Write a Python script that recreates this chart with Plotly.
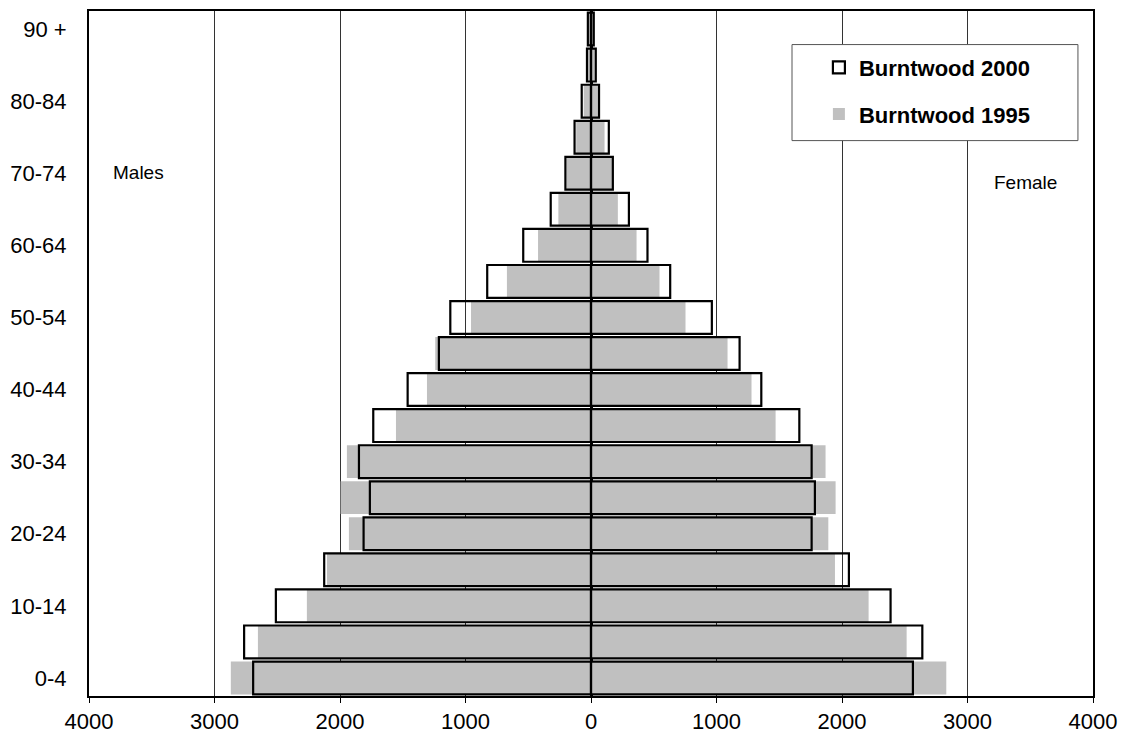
import plotly.graph_objects as go

ages = ["0-4", "5-9", "10-14", "15-19", "20-24", "25-29", "30-34", "35-39", "40-44",
        "45-49", "50-54", "55-59", "60-64", "65-69", "70-74", "75-79", "80-84", "85-89", "90 +"]

male_2000 = [2692, 2764, 2511, 2126, 1812, 1762, 1849, 1735, 1461, 1212, 1121, 827, 540, 321, 204, 131, 74, 32, 25]
male_1995 = [2870, 2654, 2264, 2104, 1929, 1995, 1945, 1554, 1307, 1241, 956, 670, 422, 260, 195, 118, 58, 25, 20]
female_2000 = [2565, 2640, 2387, 2055, 1758, 1784, 1758, 1660, 1357, 1184, 963, 631, 450, 302, 174, 142, 64, 38, 22]
female_1995 = [2831, 2515, 2212, 1944, 1891, 1949, 1869, 1471, 1279, 1088, 753, 546, 363, 214, 168, 108, 55, 28, 18]

x_ticks = [-4000, -3000, -2000, -1000, 0, 1000, 2000, 3000, 4000]
x_ticktext = ["4000", "3000", "2000", "1000", "0", "1000", "2000", "3000", "4000"]
y_ticks = ages[::2]

FONT = "Liberation Sans, Arial, sans-serif"
GREY = "#C0C0C0"

fig = go.Figure()

# 1995 (grey filled)
fig.add_trace(go.Bar(y=ages, x=[-v for v in male_1995], orientation="h",
                     marker=dict(color=GREY, line=dict(width=0)),
                     name="Burntwood 1995", legendgroup="b", legendrank=2, showlegend=True,
                     hoverinfo="skip"))
fig.add_trace(go.Bar(y=ages, x=female_1995, orientation="h",
                     marker=dict(color=GREY, line=dict(width=0)),
                     name="Burntwood 1995", legendgroup="b", legendrank=2, showlegend=False,
                     hoverinfo="skip"))
# 2000 (outline)
fig.add_trace(go.Bar(y=ages, x=[-v for v in male_2000], orientation="h",
                     marker=dict(color="rgba(0,0,0,0)", line=dict(color="black", width=2.2)),
                     name="Burntwood 2000", legendgroup="a", legendrank=1, showlegend=True,
                     hoverinfo="skip"))
fig.add_trace(go.Bar(y=ages, x=female_2000, orientation="h",
                     marker=dict(color="rgba(0,0,0,0)", line=dict(color="black", width=2.2)),
                     name="Burntwood 2000", legendgroup="a", legendrank=1, showlegend=False,
                     hoverinfo="skip"))

# legend frame
fig.add_shape(type="rect", xref="paper", yref="paper",
              x0=0.7002, x1=0.985, y0=0.8108, y1=0.951,
              line=dict(color="#555555", width=1), fillcolor="white", layer="above")

fig.add_annotation(text="Males", xref="paper", yref="paper", x=0.0498, y=0.764,
                   xanchor="center", yanchor="middle",
                   showarrow=False, font=dict(family=FONT, size=19, color="black"))
fig.add_annotation(text="Female", xref="paper", yref="paper", x=0.933, y=0.749,
                   xanchor="center", yanchor="middle",
                   showarrow=False, font=dict(family=FONT, size=19, color="black"))

fig.update_layout(
    width=1131, height=743,
    margin=dict(l=81, r=46, t=1, b=55),
    barmode="overlay", bargap=0.09,
    plot_bgcolor="white", paper_bgcolor="white",
    font=dict(family=FONT, size=22, color="black"),
    legend=dict(x=0.727, y=0.948, xanchor="left", yanchor="top",
                bgcolor="rgba(0,0,0,0)", borderwidth=0,
                traceorder="grouped", tracegroupgap=15,
                font=dict(family=FONT, size=22, color="black", weight="bold")),
    xaxis=dict(range=[-4000, 4000], tickvals=x_ticks, ticktext=x_ticktext,
               showgrid=True, gridcolor="#333333", gridwidth=1,
               zeroline=True, zerolinecolor="black", zerolinewidth=3,
               showline=True, linecolor="black", linewidth=2, mirror=True,
               ticks="outside", ticklen=5, tickcolor="black",
               tickfont=dict(family=FONT, size=22, color="black")),
    yaxis=dict(type="category", categoryorder="array", categoryarray=ages,
               tickvals=y_ticks, ticktext=y_ticks,
               showgrid=False, zeroline=False,
               showline=True, linecolor="black", linewidth=2, mirror=True,
               ticks="", ticklabelstandoff=16,
               tickfont=dict(family=FONT, size=22, color="black")),
)

fig.write_html("out.html")
